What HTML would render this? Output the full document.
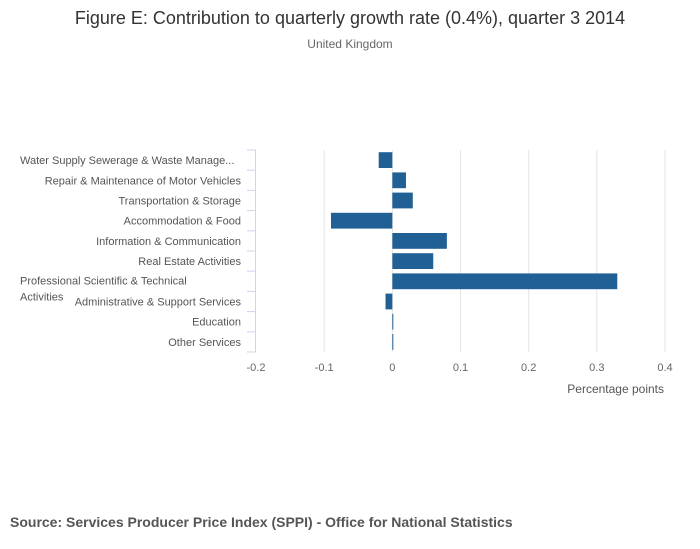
<!DOCTYPE html>
<html><head><meta charset="utf-8">
<style>
body{margin:0;background:#fff;font-family:"Liberation Sans",sans-serif;}
#wrap{position:relative;width:700px;height:549px;overflow:hidden;}
svg text{font-family:"Liberation Sans",sans-serif;}
</style></head>
<body>
<div id="wrap">
<svg id="chart" width="700" height="549">
<text x="350" y="24" text-anchor="middle" font-size="18" fill="#333">Figure E: Contribution to quarterly growth rate (0.4%), quarter 3 2014</text>
<text x="350" y="48" text-anchor="middle" font-size="12" fill="#666">United Kingdom</text>
<g id="grid"></g>
<g id="bars"></g>
<g id="axes"></g>
<text x="664" y="393" text-anchor="end" font-size="12" fill="#555">Percentage points</text>
<text x="10" y="527" font-size="14" font-weight="bold" fill="#555">Source: Services Producer Price Index (SPPI) - Office for National Statistics</text>
</svg>
</div>
<script>
const categories = ["Water Supply Sewerage & Waste Manage...","Repair & Maintenance of Motor Vehicles","Transportation & Storage","Accommodation & Food","Information & Communication","Real Estate Activities","Professional Scientific & Technical Activities","Administrative & Support Services","Education","Other Services"];
const values = [-0.02,0.02,0.03,-0.09,0.08,0.06,0.33,-0.01,0.001,0.001];
const ticks = [-0.2,-0.1,0,0.1,0.2,0.3,0.4];
const tickLabels = ["-0.2","-0.1","0","0.1","0.2","0.3","0.4"];
const NS="http://www.w3.org/2000/svg";
const plotX0=256, plotX1=665, vMin=-0.2, vMax=0.4, plotTop=150, plotBottom=352;
function xs(v){return plotX0+(v-vMin)/(vMax-vMin)*(plotX1-plotX0);}
const band=(plotBottom-plotTop)/categories.length;
function ys(i){return plotTop+i*band;}
function mk(tag,attrs,parent){const e=document.createElementNS(NS,tag);for(const k in attrs)e.setAttribute(k,attrs[k]);parent.appendChild(e);return e;}
const gridG=document.getElementById('grid'),barsG=document.getElementById('bars'),axesG=document.getElementById('axes');
ticks.forEach((t,i)=>{
  if(i>0){const g=mk('line',{x1:xs(t),x2:xs(t),y1:plotTop,y2:plotBottom,stroke:'#e4e4e4','stroke-width':1},gridG);
  
  }
  const tx=mk('text',{x:xs(t),y:371,'text-anchor':'middle','font-size':11,fill:'#666'},axesG);
  tx.textContent=tickLabels[i];
  
  
});
const ax=mk('line',{x1:plotX0-0.5,x2:plotX0-0.5,y1:plotTop,y2:plotBottom,stroke:'#ccd6eb','stroke-width':1},axesG);


for(let i=0;i<=categories.length;i++){
  const tk=mk('line',{x1:plotX0-9,x2:plotX0,y1:ys(i),y2:ys(i),stroke:'#ccd6eb','stroke-width':1},axesG);
  
  
}
categories.forEach((c,i)=>{
  const v=values[i];
  const a=xs(Math.min(0,v)),b=xs(Math.max(0,v));
  const r=mk('rect',{x:a,y:ys(i)+2.2,width:Math.max(1,b-a),height:band-4.4,fill:'#206095'},barsG);
  
  
  const cy=ys(i)+band/2+4;
  if(c.startsWith('Professional')){
    const t1=mk('text',{x:20,y:cy-1,'font-size':11,fill:'#555'},axesG);t1.textContent='Professional Scientific & Technical';
    
    
    const t2=mk('text',{x:20,y:cy+15,'font-size':11,fill:'#555'},axesG);t2.textContent='Activities';
    
    
  } else {
    const isWater=c.startsWith('Water');
    const t=mk('text',{x:isWater?20:241,y:cy,'text-anchor':isWater?'start':'end','font-size':11,fill:'#555'},axesG);
    t.textContent=c;
    
    
  }
});
</script>
</body></html>
